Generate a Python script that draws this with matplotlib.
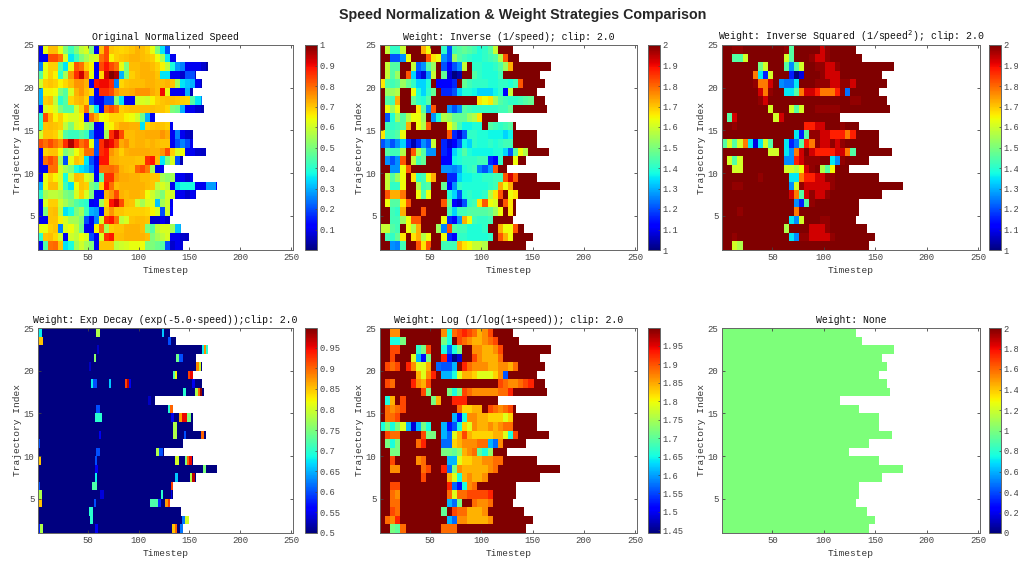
import numpy as np
import matplotlib
matplotlib.use('Agg')
import matplotlib.pyplot as plt

# largo de cada trayectoria (fila 1 abajo, fila 24 arriba)
largos = [143, 149, 141, 130, 133, 133, 156, 176, 153, 124, 143, 165,
          153, 153, 133, 115, 163, 161, 153, 161, 156, 167, 136, 130]

# velocidad normalizada leida a ojo, un valor cada 5 timesteps
fila01 = [.1,.45,.79,.8,.7,.35,.38,.55,.6,.55,.5,.1,.7,.7,.7,.58,.6,.61,.63,.63,.64,.5,.5,.48,.45,.2,.07,.1,.08]
fila02 = [.4,.7,.71,.68,.6,.1,.6,.58,.64,.61,.2,.1,.61,.86,.89,.71,.71,.72,.72,.72,.72,.71,.5,.55,.58,.61,.1,.1,.07,.06]
fila03 = [.63,.63,.69,.7,.25,.61,.64,.58,.48,.1,.1,.65,.8,.55,.69,.7,.7,.72,.72,.72,.71,.5,.45,.58,.61,.61,.55,.32,.3]
fila04 = [.1,.1,.7,.7,.65,.61,.55,.55,.5,.2,.1,.25,.61,.86,.89,.79,.58,.61,.7,.71,.71,.7,.07,.07,.1,.07]
fila05 = [.1,.5,.7,.71,.58,.35,.38,.5,.55,.42,.3,.28,.1,.7,.75,.7,.7,.69,.69,.69,.69,.68,.65,.61,.2,.6,.12]
fila06 = [.1,.61,.69,.69,.6,.55,.5,.45,.42,.4,.1,.11,.55,.68,.89,.93,.83,.71,.7,.6,.55,.61,.62,.32,.55,.6,.1]
fila07 = [.4,.55,.58,.58,.56,.5,.48,.61,.69,.61,.5,.1,.1,.72,.75,.83,.72,.71,.72,.72,.71,.64,.6,.55,.5,.61,.6,.1,.1,.07,.1,.08]
fila08 = [.3,.63,.71,.71,.61,.42,.35,.64,.7,.69,.5,.45,.68,.89,.79,.71,.72,.72,.72,.72,.72,.71,.7,.58,.61,.58,.1,.35,.38,.38,.38,.1,.1,.28,.28,.1]
fila09 = [.1,.63,.69,.65,.61,.38,.6,.71,.7,.61,.58,.1,.45,.86,.86,.75,.73,.73,.72,.72,.71,.71,.7,.7,.55,.52,.55,.1,.1,.07,.1]
fila10 = [.1,.1,.79,.79,.61,.55,.5,.38,.35,.32,.25,.11,.79,.79,.8,.78,.72,.71,.7,.8,.83,.78,.55,.1,.1]
fila11 = [.1,.79,.83,.79,.55,.2,.63,.7,.68,.35,.2,.1,.89,.89,.73,.72,.71,.71,.71,.7,.7,.86,.89,.71,.35,.5,.61,.2,.05]
fila12 = [.1,.69,.7,.7,.64,.5,.55,.64,.69,.79,.79,.2,.86,.89,.75,.72,.69,.72,.73,.73,.73,.73,.72,.72,.75,.83,.69,.61,.64,.1,.1,.07,.06]
fila13 = [.83,.79,.83,.79,.75,.86,.96,.86,.79,.83,.63,.2,.86,.93,.9,.83,.73,.75,.71,.72,.72,.71,.72,.71,.7,.7,.1,.2,.25,.2,.1]
fila14 = [.6,.7,.7,.69,.61,.45,.42,.42,.45,.42,.25,.1,.1,.55,.86,.93,.83,.71,.71,.72,.72,.73,.73,.73,.75,.73,.1,.25,.1,.07,.05]
fila15 = [.4,.7,.71,.7,.69,.58,.5,.61,.64,.55,.5,.1,.12,.61,.65,.7,.73,.73,.72,.72,.35,.69,.7,.71,.7,.69,.1]
fila16 = [.4,.83,.72,.65,.69,.64,.61,.61,.65,.1,.79,.72,.64,.65,.68,.68,.68,.65,.64,.6,.48,.3,.1]
fila17 = [.1,.61,.65,.61,.5,.45,.45,.6,.69,.79,.55,.35,.1,.79,.83,.79,.69,.7,.71,.71,.71,.71,.71,.7,.7,.68,.5,.48,.3,.1,.1,.07,.05]
fila18 = [.3,.69,.7,.58,.4,.45,.68,.71,.72,.69,.2,.1,.1,.2,.2,.5,.35,.1,.1,.6,.61,.6,.65,.69,.7,.71,.71,.7,.69,.68,.45,.35,.25]
fila19 = [.3,.65,.65,.64,.5,.45,.61,.72,.75,.71,.68,.1,.86,.86,.83,.75,.72,.72,.73,.75,.75,.75,.73,.71,.9,.63,.1,.1,.1,.3,.05]
fila20 = [.6,.69,.7,.69,.65,.68,.71,.75,.75,.72,.1,.89,.9,.9,.86,.25,.68,.7,.71,.71,.71,.72,.72,.71,.71,.72,.7,.55,.35,.32,.3,.1,.05]
fila21 = [.45,.63,.69,.65,.4,.55,.75,.86,.93,.79,.63,.1,.68,.93,1.0,.96,.3,.5,.69,.71,.72,.72,.72,.7,.35,.35,.1,.1,.07,.2,.2,.06]
fila22 = [.25,.63,.69,.69,.45,.35,.63,.82,.79,.69,.65,.1,.83,.89,.83,.79,.63,.5,.71,.71,.72,.72,.71,.69,.65,.58,.38,.28,.25,.1,.1,.1,.07,.03]
fila23 = [.1,.1,.83,.83,.79,.61,.35,.42,.5,.55,.6,.61,.79,.83,.65,.69,.7,.71,.72,.72,.71,.7,.69,.64,.55,.35,.1,.1]
fila24 = [.1,.63,.71,.71,.63,.5,.42,.5,.58,.61,.5,.1,.71,.83,.7,.69,.68,.69,.7,.72,.71,.69,.63,.5,.35,.2]

filas = [fila01, fila02, fila03, fila04, fila05, fila06, fila07, fila08,
         fila09, fila10, fila11, fila12, fila13, fila14, fila15, fila16,
         fila17, fila18, fila19, fila20, fila21, fila22, fila23, fila24]

# panel Exp Decay: casi todo en el minimo, estos son los tramos que se salen
# fila, timestep inicial, timestep final, peso
manchas_fila = [24,24,24,23,23,22,22,22,22,21,21,21,20,20,20,19,19,19,19,18,18,18,18,18,18,18,17,17,17,17,16,
                15,15,15,14,14,14,14,14,13,12,12,12,12,11,10,10,10,9,9,9,9,9,9,8,8,7,7,7,7,6,6,6,
                5,5,5,5,4,4,4,4,4,4,3,2,2,2,1,1,1,1,1,1]
manchas_ini = [1,58,123,1,129,59,162,164,166,56,137,140,51,157,159,134,136,149,151,53,55,71,87,89,91,153,144,156,158,160,109,
               58,129,131,57,132,140,143,148,134,61,134,145,161,1,58,117,120,1,57,136,146,148,150,57,163,57,136,151,153,1,54,132,
               1,62,122,132,1,56,111,119,126,129,51,52,143,146,1,3,57,133,136,141]
manchas_fin = [4,61,124,5,131,60,163,165,167,57,139,143,52,158,160,135,137,150,153,54,58,72,88,90,92,155,146,157,159,161,111,
               61,130,133,63,134,142,147,151,137,62,137,146,163,2,61,119,123,3,58,139,147,149,152,59,165,58,138,152,155,2,58,133,
               4,65,123,132,4,57,118,121,128,130,54,54,145,149,2,5,59,135,137,143]
manchas_peso = [.68,.78,.66,.85,.6,.53,.68,.88,.7,.76,.74,.6,.53,.88,.8,.72,.82,.92,.95,.68,.6,.66,.92,.97,.55,.55,.7,.78,.9,.99,.53,
                .6,.7,.9,.7,.55,.87,.95,.75,.78,.55,.78,.6,.9,.6,.6,.78,.6,.85,.6,.8,.75,.9,.95,.55,.75,.68,.66,.78,.97,.6,.72,.92,
                .78,.54,.7,.55,.85,.6,.72,.58,.87,.92,.7,.7,.62,.8,.58,.78,.55,.85,.9,.62]

titulos = ['Original Normalized Speed',
           'Weight: Inverse (1/speed); clip: 2.0',
           'Weight: Inverse Squared (1/speed$^{2}$); clip: 2.0',
           'Weight: Exp Decay (exp(-5.0\u00b7speed));clip: 2.0',
           'Weight: Log (1/log(1+speed)); clip: 2.0',
           'Weight: None']
limites = [(0, 1), (1, 2), (1, 2), (0.5, 0.998), (1.443, 1.998), (0, 2)]
ticks_barra = [np.arange(0.1, 1.01, 0.1), np.arange(1, 2.01, 0.1), np.arange(1, 2.01, 0.1),
               np.arange(0.5, 0.96, 0.05), np.arange(1.45, 1.96, 0.05), np.arange(0, 2.01, 0.2)]

MAX_T = 252
speed = np.full((len(filas), MAX_T), np.nan)
for i in range(len(filas)):
    valores = np.repeat(filas[i], 5)[:largos[i]]
    speed[i, :len(valores)] = valores

peso_exp = np.where(np.isnan(speed), np.nan, 0.5)
for j in range(len(manchas_fila)):
    peso_exp[manchas_fila[j] - 1, manchas_ini[j] - 1:manchas_fin[j]] = manchas_peso[j]

# los paneles inversos salen de la velocidad con la formula de su titulo
pesos = [speed,
         np.clip(1 / speed, None, 2.0),
         np.clip(1 / speed ** 2, None, 2.0),
         peso_exp,
         np.clip(1 / np.log(1 + speed), None, 2.0),
         np.where(np.isnan(speed), np.nan, 1.0)]

plt.rcParams['font.family'] = ['Liberation Mono', 'DejaVu Sans Mono']
plt.rcParams['mathtext.fontset'] = 'dejavusans'
ANCHO, ALTO = 1018.0, 566.0
GRIS = '#666666'
fig = plt.figure(figsize=(10.18, 5.66), dpi=100)
fig.text(523 / ANCHO, 1 - 15 / ALTO, 'Speed Normalization & Weight Strategies Comparison',
         family='Liberation Sans', weight='bold', fontsize=10.3, ha='center', va='center', color='#262626')

izq = [38, 380, 722]
anchos = [255, 257, 258]
izq_barra = [305, 648, 989]
arriba = [45, 328]
xx = np.arange(1, MAX_T + 2)
yy = np.arange(1, len(filas) + 2)

for k in range(6):
    col = k % 3
    y0 = arriba[k // 3]
    ax = fig.add_axes([izq[col] / ANCHO, 1 - (y0 + 205) / ALTO, anchos[col] / ANCHO, 205 / ALTO])
    malla = ax.pcolormesh(xx, yy, np.ma.masked_invalid(pesos[k]), cmap='jet',
                          vmin=limites[k][0], vmax=limites[k][1], shading='flat')
    ax.set_xlim(1, MAX_T)
    ax.set_ylim(1, 25)
    ax.set_xticks([50, 100, 150, 200, 250])
    ax.set_yticks([5, 10, 15, 20, 25])
    ax.tick_params(direction='in', top=True, right=True, length=2.5, width=0.6,
                   labelsize=6.5, colors='#444444', pad=2.5)
    for lado in ax.spines.values():
        lado.set_color(GRIS)
        lado.set_linewidth(0.7)
    ax.set_title(titulos[k], fontsize=7.1, color='#111111', pad=3.5)
    ax.set_xlabel('Timestep', fontsize=6.8, color='#333333', labelpad=2.5)
    ax.set_ylabel('Trajectory Index', fontsize=6.8, color='#333333', labelpad=1.5)

    cax = fig.add_axes([izq_barra[col] / ANCHO, 1 - (y0 + 205) / ALTO, 12 / ANCHO, 205 / ALTO])
    barra = fig.colorbar(malla, cax=cax)
    barra.set_ticks(ticks_barra[k])
    barra.set_ticklabels(['%g' % round(t, 2) for t in ticks_barra[k]])
    barra.ax.tick_params(direction='in', length=1.5, width=0.5, labelsize=6.3, colors='#444444', pad=1.5)
    barra.outline.set_edgecolor(GRIS)
    barra.outline.set_linewidth(0.7)

fig.savefig('out.png', dpi=100)
